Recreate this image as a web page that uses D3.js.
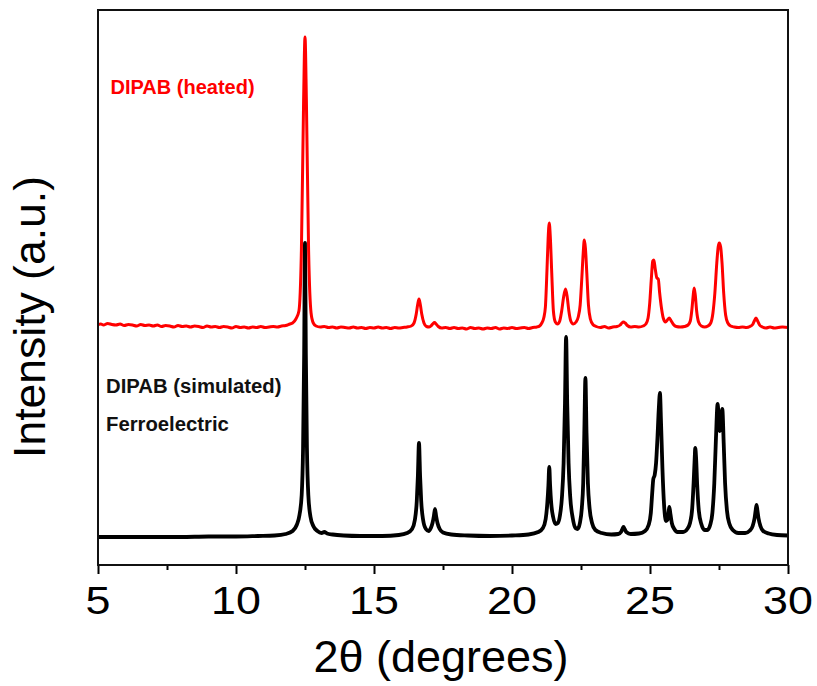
<!DOCTYPE html>
<html>
<head>
<meta charset="utf-8">
<script src="https://cdn.jsdelivr.net/npm/d3@7"></script>
<style>
  html, body { margin: 0; padding: 0; background: #fff; }
  svg { display: block; }
  text { font-family: "Liberation Sans", Arial, Helvetica, sans-serif; }
</style>
</head>
<body>
<div id="chart"></div>
<script>
// ---------- data ----------
const xTickValues = [5, 10, 15, 20, 25, 30];
const xMinorTicks = [7.5, 12.5, 17.5, 22.5, 27.5];
const xTickLabels = ["5", "10", "15", "20", "25", "30"];

// Simulated (ferroelectric) pattern: [2θ, intensity a.u.]
const simulatedX = [5.0,6.0,7.0,8.0,9.0,10.0,10.8,11.4,11.8,12.05,12.2,12.3,12.38,12.43,12.47,12.50,12.53,12.57,12.62,12.7,12.8,12.95,13.1,13.2,13.3,13.5,13.9,14.5,15.3,15.9,16.2,16.38,16.48,16.55,16.59,16.63,16.67,16.71,16.78,16.88,16.98,17.06,17.12,17.17,17.21,17.25,17.3,17.38,17.5,17.8,18.4,19.2,20.0,20.6,20.95,21.12,21.22,21.28,21.32,21.35,21.38,21.42,21.49,21.58,21.66,21.74,21.81,21.87,21.92,21.96,22.0,22.05,22.11,22.2,22.3,22.38,22.46,22.53,22.58,22.62,22.66,22.7,22.75,22.81,22.9,23.02,23.25,23.6,23.85,23.95,24.0,24.04,24.08,24.14,24.3,24.6,24.82,24.95,25.03,25.08,25.12,25.17,25.22,25.27,25.32,25.36,25.4,25.45,25.51,25.58,25.63,25.67,25.7,25.74,25.79,25.88,26.0,26.2,26.35,26.45,26.53,26.58,26.62,26.64,26.67,26.71,26.77,26.86,26.98,27.08,27.18,27.26,27.33,27.39,27.45,27.49,27.53,27.57,27.62,27.67,27.72,27.79,27.88,28.0,28.2,28.45,28.62,28.72,28.79,28.83,28.86,28.89,28.93,29.0,29.1,29.3,29.6,30.0];
const simulatedY = [26,26,26,26,26.5,26.5,27,27.5,29,32,38,48,68,115,210,320,210,115,68,46,37,32,30,31,29.5,28.5,27.5,27,27,28,30,34,43,62,87,120,87,62,43,34,32,35,40,47,54,47,40,34,30.5,28.5,27.5,27,27.5,28.5,31,35,44,60,78,96,78,60,46,39,40,48,66,100,160,226,160,100,66,45,35,34,40,55,80,130,185,130,80,55,40,33,30,28.5,29,31,34,36,34,31,29,29.5,32,38,50,70,84,88,100,125,155,170,140,95,58,42,43,50,56,49,40,34,31,31,34,40,55,80,105,115,105,78,52,39,33,33,38,50,80,125,159,145,132,140,154,120,80,52,39,33,30,30,32.5,37,45,53,58,53,45,37,32,29.5,28,27.5];

// Heated (measured) pattern: [2θ, intensity a.u.]
const heatedX = [5.00,5.10,5.20,5.35,5.50,5.65,5.80,5.95,6.10,6.25,6.40,6.55,6.70,6.85,7.00,7.15,7.30,7.45,7.60,7.75,7.90,8.05,8.20,8.35,8.50,8.65,8.80,8.95,9.10,9.25,9.40,9.55,9.70,9.85,10.00,10.15,10.30,10.45,10.60,10.75,10.90,11.05,11.20,11.35,11.50,11.65,11.80,11.95,12.05,12.17,12.28,12.37,12.45,12.50,12.55,12.63,12.72,12.80,12.90,13.05,13.20,13.35,13.50,13.65,13.80,13.95,14.10,14.25,14.40,14.55,14.70,14.85,15.00,15.15,15.30,15.45,15.60,15.75,15.90,16.05,16.20,16.35,16.45,16.53,16.58,16.63,16.68,16.73,16.81,16.90,17.00,17.08,17.14,17.19,17.25,17.33,17.45,17.60,17.75,17.90,18.05,18.20,18.35,18.50,18.65,18.80,18.95,19.10,19.25,19.40,19.55,19.70,19.85,20.00,20.15,20.30,20.45,20.60,20.75,20.90,21.00,21.08,21.15,21.21,21.27,21.31,21.35,21.39,21.44,21.50,21.57,21.65,21.73,21.80,21.87,21.94,22.00,22.06,22.13,22.22,22.32,22.40,22.47,22.53,22.58,22.62,22.66,22.71,22.77,22.84,22.93,23.05,23.20,23.35,23.50,23.65,23.80,23.92,23.98,24.04,24.10,24.18,24.30,24.45,24.60,24.75,24.85,24.93,24.99,25.05,25.10,25.14,25.19,25.25,25.30,25.35,25.41,25.48,25.56,25.63,25.70,25.77,25.85,25.95,26.10,26.25,26.38,26.46,26.52,26.56,26.60,26.64,26.69,26.76,26.86,26.98,27.10,27.20,27.28,27.35,27.42,27.47,27.51,27.56,27.61,27.67,27.74,27.82,27.92,28.05,28.20,28.35,28.50,28.62,28.72,28.78,28.84,28.90,28.97,29.07,29.20,29.35,29.50,29.65,29.80,30.00];
const heatedY = [238.5,239,238,239.5,238.5,238,239,237.5,238.5,238,237,238.5,237.5,238,237,238,236.5,237.5,237,236,237.5,236.5,237,236,237,236.5,235.5,237,236,236.5,235.5,236.5,236,235,236.5,235.5,236,235,236,235.5,236.5,235.5,236,236.5,236,237,237.5,239,240,244,252,313,463,526,463,313,250,240,237,236,236.5,235.5,236,235,236,235.5,235,236,235,235.5,234.5,235.5,235,236,235,235.5,234.5,235.5,235,235.5,236,237,240,249,258,264,258,249,240,236.5,236,237.5,239.5,240.5,239,236.5,235,235.5,234.5,235.5,234.5,235,234,235.5,234.5,235,234,235,234.5,235.5,234,235,234.5,235.5,234.5,235,235.5,234.5,235.5,236,237,240,245,256,295,325,340,325,290,252,241,239,242,252,266,274,266,252,242,239,241,246,258,285,310,323,315,290,258,244,238.5,236.5,235.5,236.5,235,236,236.5,238,240,241,240,237.5,236,236.5,236,237,239,245,260,285,302,303,294,285,284,270,256,245,241,243,245,242,238.5,236.5,236,236.5,238,242,254,266,275,268,252,241,237,236,237,240,250,270,300,316,320,316,300,270,248,240,237,236,235.5,236,235.5,236.5,238.5,242,245,242,238,236,235,236,235,235.5,236,235.5];

const seriesNames = ["DIPAB (heated)", "DIPAB (simulated)", "Ferroelectric"];

// ---------- layout ----------
const W = 817, H = 686;
const plot = { left: 98, right: 788, top: 10, bottom: 565 };

const svg = d3.select("#chart").append("svg")
  .attr("width", W).attr("height", H);

const x = d3.scaleLinear().domain([5, 30]).range([plot.left, plot.right]);
const y = d3.scaleLinear().domain([-2, 553]).range([plot.bottom, plot.top]);

svg.append("clipPath").attr("id", "clip")
  .append("rect")
  .attr("x", plot.left).attr("y", plot.top)
  .attr("width", plot.right - plot.left).attr("height", plot.bottom - plot.top);

const line = d3.line()
  .x(d => x(d[0]))
  .y(d => y(d[1]))
  .curve(d3.curveMonotoneX);

const simData = simulatedX.map((v, i) => [v, simulatedY[i]]);
const heatData = heatedX.map((v, i) => [v, heatedY[i]]);

const g = svg.append("g").attr("clip-path", "url(#clip)");
g.append("path").datum(simData)
  .attr("d", line)
  .attr("fill", "none")
  .attr("stroke", "#000")
  .attr("stroke-width", 3.8)
  .attr("stroke-linejoin", "round");
g.append("path").datum(heatData)
  .attr("d", line)
  .attr("fill", "none")
  .attr("stroke", "#ff0000")
  .attr("stroke-width", 3)
  .attr("stroke-linejoin", "round");

// ---------- axes ----------
const axisMajor = d3.axisBottom(x).tickValues(xTickValues).tickSize(9).tickFormat("");
const axisMinor = d3.axisBottom(x).tickValues(xMinorTicks).tickSize(5).tickFormat("");

const gMajor = svg.append("g").attr("transform", `translate(0,${plot.bottom})`).call(axisMajor);
const gMinor = svg.append("g").attr("transform", `translate(0,${plot.bottom})`).call(axisMinor);
[gMajor, gMinor].forEach(a => {
  a.select(".domain").remove();
  a.selectAll(".tick line").attr("stroke", "#000").attr("stroke-width", 2);
});

// tick labels
svg.append("g").selectAll("text")
  .data(xTickValues)
  .join("text")
  .attr("transform", (d) => `translate(${x(d)},614) scale(1.18,1)`)
  .attr("text-anchor", "middle")
  .attr("font-size", 38)
  .attr("fill", "#000")
  .text((d, i) => xTickLabels[i]);

// frame
svg.append("rect")
  .attr("x", plot.left).attr("y", plot.top)
  .attr("width", plot.right - plot.left).attr("height", plot.bottom - plot.top)
  .attr("fill", "none").attr("stroke", "#111").attr("stroke-width", 2);

// axis titles
svg.append("text")
  .attr("x", 441).attr("y", 672)
  .attr("text-anchor", "middle")
  .attr("font-size", 45)
  .attr("fill", "#000")
  .text("2θ (degrees)");

svg.append("text")
  .attr("transform", "translate(45,317) rotate(-90)")
  .attr("text-anchor", "middle")
  .attr("font-size", 44.5)
  .attr("fill", "#000")
  .text("Intensity (a.u.)");

// series labels
svg.append("text")
  .attr("x", 110.5).attr("y", 94)
  .attr("font-size", 20).attr("font-weight", "bold")
  .attr("fill", "#ff0000")
  .text(seriesNames[0]);
svg.append("text")
  .attr("x", 106).attr("y", 393)
  .attr("font-size", 20.3).attr("font-weight", "bold")
  .attr("fill", "#111")
  .text(seriesNames[1]);
svg.append("text")
  .attr("x", 106).attr("y", 431)
  .attr("font-size", 20.3).attr("font-weight", "bold")
  .attr("fill", "#111")
  .text(seriesNames[2]);
</script>
</body>
</html>
